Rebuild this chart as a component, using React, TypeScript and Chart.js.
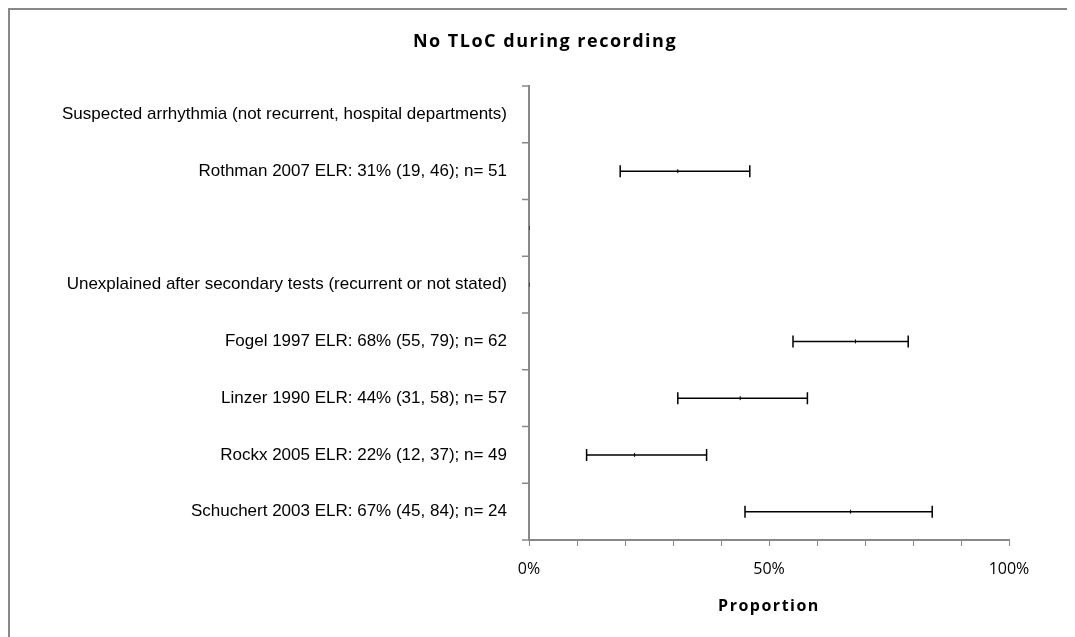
import React, { useEffect, useRef } from "react";
import { Chart, registerables } from "chart.js";
Chart.register(...registerables);

const titleText = "No TLoC during recording";
const xTitleText = "Proportion";
const categories = [
  "Suspected arrhythmia (not recurrent, hospital departments)",
  "Rothman 2007 ELR: 31% (19, 46); n= 51",
  "",
  "Unexplained after secondary tests (recurrent or not stated)",
  "Fogel 1997 ELR: 68% (55, 79); n= 62",
  "Linzer 1990 ELR: 44% (31, 58); n= 57",
  "Rockx 2005 ELR: 22% (12, 37); n= 49",
  "Schuchert 2003 ELR: 67% (45, 84); n= 24",
];
const estimates: (number | null)[] = [null, 31, 0, 0, 68, 44, 22, 67];
const lower: (number | null)[] = [null, 19, null, null, 55, 31, 12, 45];
const upper: (number | null)[] = [null, 46, null, null, 79, 58, 37, 84];
const xTicks = [0, 50, 100];

const errorBars = {
  id: "errorBars",
  afterDatasetsDraw(chart: any) {
    const { ctx, scales } = chart;
    const xs = scales.x, ys = scales.y;
    ctx.save();
    ctx.strokeStyle = "#000";
    ctx.lineWidth = 1.5;
    categories.forEach((_, i) => {
      const lo = lower[i], hi = upper[i];
      if (lo == null || hi == null) return;
      const y = ys.getPixelForValue(i);
      const x1 = xs.getPixelForValue(lo), x2 = xs.getPixelForValue(hi);
      ctx.beginPath();
      ctx.moveTo(x1, y); ctx.lineTo(x2, y);
      ctx.moveTo(x1, y - 6); ctx.lineTo(x1, y + 6);
      ctx.moveTo(x2, y - 6); ctx.lineTo(x2, y + 6);
      ctx.stroke();
    });
    ctx.restore();
  },
};

const extras = {
  id: "extras",
  afterDraw(chart: any) {
    const { ctx, scales, chartArea } = chart;
    const ys = scales.y;
    const x = chartArea.left;
    ctx.save();
    ctx.strokeStyle = "#888";
    ctx.lineWidth = 1.5;
    for (let i = 0; i <= categories.length; i++) {
      const y = ys.getPixelForValue(i - 0.5);
      ctx.beginPath();
      ctx.moveTo(x - 7, y);
      ctx.lineTo(x, y);
      ctx.stroke();
    }
    ctx.fillStyle = "#000";
    ctx.textAlign = "center";
    ctx.textBaseline = "middle";
    (ctx as any).letterSpacing = "1.5px";
    ctx.font = "bold 18px 'Open Sans'";
    ctx.fillText(titleText, 535, 32);
    ctx.font = "bold 16px 'Open Sans'";
    ctx.fillText(xTitleText, (chartArea.left + chartArea.right) / 2, chartArea.bottom + 66);
    ctx.restore();
  },
};

export default function App() {
  const ref = useRef<HTMLCanvasElement>(null);
  useEffect(() => {
    const data = categories
      .map((c, i) => ({ x: estimates[i], y: i }))
      .filter((d) => d.x != null);
    const chart = new Chart(ref.current!, {
      type: "scatter",
      data: {
        datasets: [
          {
            data: data as any,
            pointStyle: "line",
            rotation: 90,
            radius: 2,
            borderColor: "#000",
            borderWidth: 1,
            backgroundColor: "#000",
          },
        ],
      },
      options: {
        animation: false,
        responsive: false,
        layout: { padding: { top: 76, right: 77, bottom: 0, left: 0 } },
        plugins: {
          legend: { display: false },
          tooltip: { enabled: false },
          title: { display: false },
        },
        scales: {
          x: {
            type: "linear",
            min: 0,
            max: 100,
            afterBuildTicks: (s: any) => {
              s.ticks = [0, 10, 20, 30, 40, 50, 60, 70, 80, 90, 100].map((v) => ({ value: v }));
            },
            afterFit: (s: any) => { s.height = 106; },
            ticks: {
              autoSkip: false,
              maxRotation: 0,
              color: "#000",
              font: { family: "Open Sans", size: 16 },
              padding: 14,
              callback: (v: any) => (xTicks.includes(v) ? v + "%" : ""),
            },
            grid: { drawOnChartArea: false, tickLength: 6, color: "#888", lineWidth: 1 },
            border: { color: "#888", width: 2 },
          },
          y: {
            type: "linear",
            min: -0.5,
            max: categories.length - 0.5,
            reverse: true,
            afterBuildTicks: (s: any) => {
              s.ticks = categories.map((_, i) => ({ value: i }));
            },
            afterFit: (s: any) => { s.width = 519; },
            ticks: {
              autoSkip: false,
              color: "#000",
              font: { family: "Liberation Sans", size: 17 },
              padding: 14,
              callback: (v: any) => categories[v] ?? "",
            },
            grid: { display: false },
            border: { color: "#888", width: 2 },
          },
        },
      },
      plugins: [errorBars, extras],
    } as any);
    return () => chart.destroy();
  }, []);
  return (
    <div style={{ borderTop: "2px solid #888", borderLeft: "2px solid #888", width: 1080, height: 640, boxSizing: "border-box" }}>
      <canvas ref={ref} width={1076} height={636} style={{ display: "block" }} />
    </div>
  );
}
